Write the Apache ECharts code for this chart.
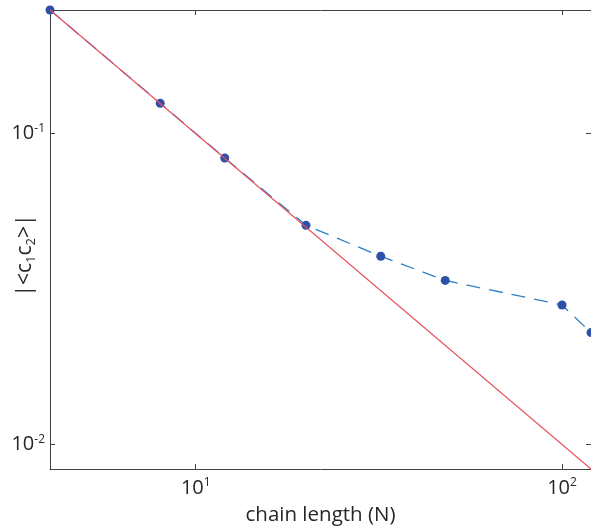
<!DOCTYPE html>
<html>
<head>
<meta charset="utf-8">
<script src="https://cdn.jsdelivr.net/npm/echarts@6/dist/echarts.min.js"></script>
<style>
html,body{margin:0;padding:0;background:#fff;}
#c{width:591px;height:527px;}
</style>
</head>
<body>
<div id="c"></div>
<script>
// Data
var chainLength = [4, 8, 12, 20, 32, 48, 100, 120];
var correlation = [0.25, 0.1252, 0.0835, 0.0507, 0.0403, 0.0337, 0.0281, 0.0229];
var fitX = [4, 120];
var fitY = [0.25, 1 / 120];
var xTickExps = [1, 2];
var yTickExps = [-1, -2];

var FONT = 'Open Sans';
var TXT = '#262626';
var AX = '#404040';

function isDecade(v, exps) {
  var e = Math.log10(v);
  for (var i = 0; i < exps.length; i++) {
    if (Math.abs(e - exps[i]) < 1e-6) return exps[i];
  }
  return null;
}

var rich = {
  b: {fontSize: 20, fontFamily: FONT, color: TXT, lineHeight: 22},
  s: {fontSize: 12, fontFamily: FONT, color: TXT, lineHeight: 12, verticalAlign: 'top'}
};

var chart = echarts.init(document.getElementById('c'));
chart.setOption({
  animation: false,
  backgroundColor: '#fff',
  grid: {left: 50, top: 10, right: 0, bottom: 58, containLabel: false, outerBoundsMode: 'none'},
  xAxis: [{
    type: 'log', logBase: 10, min: 4, max: 120, position: 'bottom',
    axisLine: {show: true, lineStyle: {color: AX, width: 1}},
    axisTick: {show: true, inside: true, length: 5, lineStyle: {color: AX}},
    minorTick: {show: false},
    splitLine: {show: false},
    axisLabel: {
      margin: 8, showMinLabel: false, showMaxLabel: false,
      formatter: function (v) {
        var e = isDecade(v, xTickExps);
        return e === null ? '' : '{b|10}{s|' + e + '}';
      },
      rich: rich
    },
    name: 'chain length (N)', nameLocation: 'middle', nameGap: 36, nameMoveOverlap: false,
    nameTextStyle: {fontSize: 20.5, fontFamily: FONT, color: TXT}
  }, {
    type: 'log', logBase: 10, min: 4, max: 120, position: 'top',
    axisLine: {show: true, lineStyle: {color: AX, width: 1}},
    axisTick: {show: true, inside: true, length: 5, lineStyle: {color: AX}},
    axisLabel: {show: false},
    splitLine: {show: false}
  }],
  yAxis: [{
    type: 'log', logBase: 10, min: 1 / 120, max: 0.25, position: 'left',
    axisLine: {show: true, lineStyle: {color: AX, width: 1}},
    axisTick: {show: true, inside: true, length: 5, lineStyle: {color: AX}},
    minorTick: {show: false},
    splitLine: {show: false},
    axisLabel: {
      margin: 5, showMinLabel: false, showMaxLabel: false,
      formatter: function (v) {
        var e = isDecade(v, yTickExps);
        return e === null ? '' : '{b|10}{s|' + e + '}';
      },
      rich: rich
    },
    name: '{n||<c}{sub|1}{n|c}{sub|2}{n|>|}', nameLocation: 'middle', nameGap: 12, nameMoveOverlap: false,
    nameTextStyle: {
      padding: [0, 32, 0, 0],
      rich: {
        n: {fontSize: 21, fontFamily: FONT, color: TXT, lineHeight: 26},
        sub: {fontSize: 13, fontFamily: FONT, color: TXT, lineHeight: 14, verticalAlign: 'bottom'}
      }
    }
  }, {
    type: 'log', logBase: 10, min: 1 / 120, max: 0.25, position: 'right',
    axisLine: {show: false},
    axisTick: {show: true, inside: true, length: 5, lineStyle: {color: AX}},
    axisLabel: {show: false},
    splitLine: {show: false}
  }],
  series: [{
    type: 'line',
    data: chainLength.map(function (x, i) { return [x, correlation[i]]; }),
    symbol: 'circle', symbolSize: 9,
    itemStyle: {color: '#2F50A8'},
    lineStyle: {color: '#2B7FC4', width: 1.3, type: [14, 9]},
    clip: false, z: 2
  }, {
    type: 'line',
    data: fitX.map(function (x, i) { return [x, fitY[i]]; }),
    symbol: 'none',
    lineStyle: {color: '#E8505C', width: 1.2},
    z: 3
  }]
});
</script>
</body>
</html>
